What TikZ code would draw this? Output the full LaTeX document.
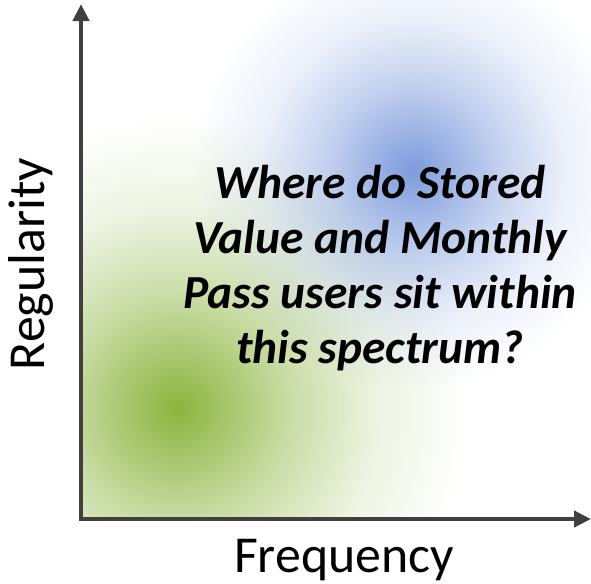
\documentclass[tikz,border=0pt]{standalone}
\usepackage{fontspec}
\setmainfont{Carlito}
\usetikzlibrary{arrows.meta, fadings}

\definecolor{axisgray}{RGB}{64,64,64}
\definecolor{blobgreen}{RGB}{140,180,62}
\definecolor{blobblue}{RGB}{125,155,220}

\pgfdeclareradialshading{blobshade}{\pgfpointorigin}{color(0bp)=(white); color(4bp)=(white!78!black); color(10bp)=(white!45!black); color(17.5bp)=(white!14!black); color(25bp)=(black); color(50bp)=(black)}
\pgfdeclarefading{blobfade}{\pgfuseshading{blobshade}}

\begin{document}
\begin{tikzpicture}[
		x=0.02cm, y=-0.02cm,
		axis/.style={draw=axisgray, line width=2.8pt, line join=miter, {Triangle[length=0.34cm, width=0.32cm]}-{Triangle[length=0.34cm, width=0.32cm]}},
		blob/.style={path fading=blobfade},
		axislabel/.style={font=\fontsize{29.5}{36}\selectfont, inner sep=0pt},
		question/.style={font=\fontsize{27}{31.3}\selectfont\bfseries\itshape, align=center, inner sep=0pt}
	]
	\useasboundingbox (0,0) rectangle (591,583);

	\coordinate (origin) at (81,519);
	\coordinate (ytip) at (81,4);
	\coordinate (xtip) at (591,519);

	% shaded clusters inside the quadrant
	\begin{scope}
		\clip (origin) rectangle (591,0);
		\fill[blobgreen, blob] (177,408) circle (290);
		\fill[blobblue, blob] (413,170) circle (220);
	\end{scope}

	\draw[axis] (ytip) -- (origin) -- (xtip);

	\node[question] (q) at (380,268) {Where do Stored\\Value and Monthly\\Pass users sit within\\this spectrum?};
	\node[axislabel, anchor=base] (freq) at (344,572) {Frequency};
	\node[axislabel, anchor=base, rotate=90] (reg) at (44,264) {Regularity};
\end{tikzpicture}
\end{document}
